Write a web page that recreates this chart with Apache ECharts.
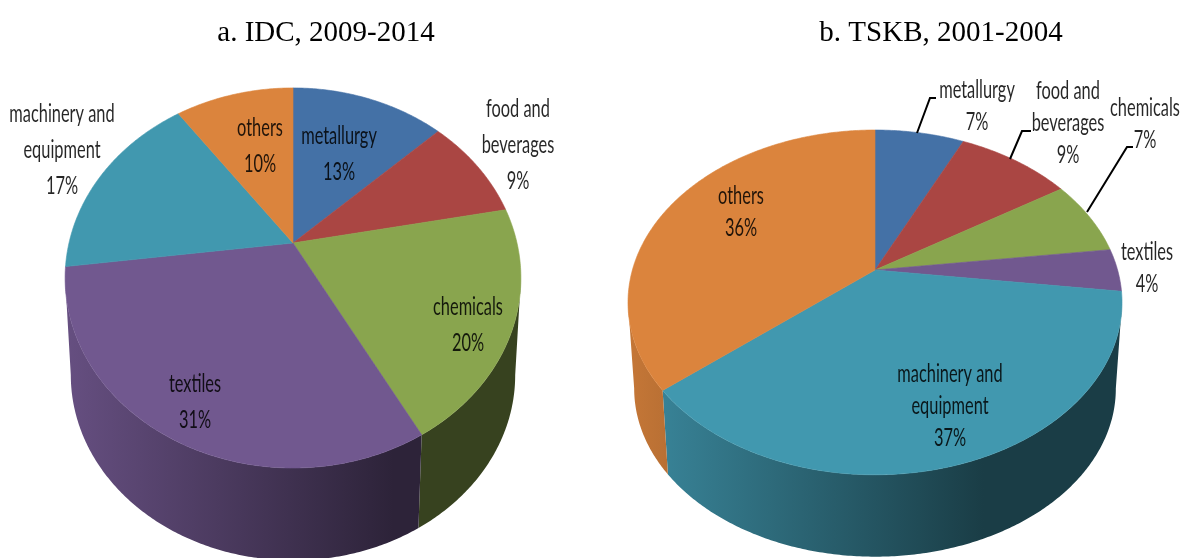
<!DOCTYPE html>
<html>
<head>
<meta charset="utf-8">
<style>html,body{margin:0;padding:0;background:#fff}#c{width:1183px;height:558px}</style>
<script src="https://cdn.jsdelivr.net/npm/echarts@6/dist/echarts.min.js"></script>
</head>
<body>
<div id="c"></div>
<script>
const sliceNames = ['metallurgy', 'food and\nbeverages', 'chemicals', 'textiles', 'machinery and\nequipment', 'others'];
const valuesIDC = [13, 9, 20, 31, 17, 10];
const valuesTSKB = [7, 9, 7, 4, 37, 36];
const titles = ['a. IDC, 2009-2014', 'b. TSKB, 2001-2004'];
const palette = ['#4471a6', '#aa4643', '#89a54e', '#71588f', '#4198af', '#db843d'];

const FONT = 'Lato';
const FONT_SIZE = 25;
const TEXT_SCALE = 0.655;

const layoutA = {
  cx: 293, cy: 243, A: 183.6, B: 224, k: 0.184, dy: 98, lowerScale: 0.975, left: 65, width: 456, lineHeight: 36,
  labels: [[339, 154], [518, 145], [468, 325], [195, 402], [62, 150], [260, 146]],
  leaders: [null, null, null, null, null, null]
};
const layoutB = {
  cx: 875, cy: 270, A: 166.3, B: 242.6, k: 0.188, dy: 87, lowerScale: 0.975, left: 628, width: 494, lineHeight: 32,
  labels: [[977, 106], [1068, 123], [1145, 124], [1147, 268], [950, 406], [741, 212]],
  leaders: [[[917, 133], [930, 98], [936, 98]], [[1010, 159], [1022, 131], [1031, 131]], [[1087, 212], [1127, 147], [1133, 147]], null, null, null]
};

function shade(hex, f) {
  const n = parseInt(hex.slice(1), 16);
  const ch = [n >> 16 & 255, n >> 8 & 255, n & 255].map(v => Math.round(v * f));
  return 'rgb(' + ch.join(',') + ')';
}

function project(L, theta, lower) {
  const c = Math.cos(theta), s = Math.sin(theta), den = 1 + L.k * c;
  let x = L.B * s / den, y = -L.A * c / den;
  if (lower) { x *= L.lowerScale; y = y * L.lowerScale + L.dy; }
  return [L.cx + x, L.cy + y];
}

function arc(L, t0, t1, lower) {
  const pts = [], n = Math.max(2, Math.ceil(Math.abs(t1 - t0) / 0.01));
  for (let i = 0; i <= n; i++) pts.push(project(L, t0 + (t1 - t0) * i / n, lower));
  return pts;
}

function makeRender(values, L) {
  const total = values.reduce((a, b) => a + b, 0);
  const tMin = Math.acos(-L.k), tMax = 2 * Math.PI - tMin;
  return function (params) {
    const i = params.dataIndex;
    const before = values.slice(0, i).reduce((a, b) => a + b, 0);
    const t0 = before / total * 2 * Math.PI;
    const t1 = (before + values[i]) / total * 2 * Math.PI;
    const color = palette[i];
    const children = [];
    const w0 = Math.max(t0, tMin), w1 = Math.min(t1, tMax);
    if (w1 > w0) {
      const pts = arc(L, w0, w1, false).concat(arc(L, w1, w0, true));
      const fill = new echarts.graphic.LinearGradient(L.left, 0, L.left + L.width, 0, [
        { offset: 0, color: shade(color, 0.9) },
        { offset: 0.72, color: shade(color, 0.4) },
        { offset: 1, color: shade(color, 0.4) }
      ], true);
      children.push({ type: 'polygon', z2: 1, shape: { points: pts }, style: { fill: fill } });
    }
    children.push({
      type: 'polygon', z2: 2,
      shape: { points: [[L.cx, L.cy]].concat(arc(L, t0, t1, false)) },
      style: { fill: color, stroke: color, lineWidth: 0.6 }
    });
    if (L.leaders[i]) {
      children.push({
        type: 'polyline', z2: 3,
        shape: { points: L.leaders[i] },
        style: { fill: null, stroke: '#000', lineWidth: 2 }
      });
    }
    children.push({
      type: 'text', z2: 4,
      x: L.labels[i][0], y: L.labels[i][1], scaleX: TEXT_SCALE,
      style: {
        text: sliceNames[i] + '\n' + values[i] + '%',
        font: FONT_SIZE + 'px ' + FONT,
        lineHeight: L.lineHeight,
        align: 'center', verticalAlign: 'middle',
        fill: 'rgba(0,0,0,0.85)'
      }
    });
    return { type: 'group', children: children };
  };
}

const chart = echarts.init(document.getElementById('c'), null, { renderer: 'canvas' });
chart.setOption({
  animation: false,
  backgroundColor: '#fff',
  title: [
    { text: titles[0], left: 321, top: 14, textAlign: 'center', textStyle: { fontFamily: 'Liberation Serif', fontSize: 29, fontWeight: 'normal', color: '#000' } },
    { text: titles[1], left: 936, top: 14, textAlign: 'center', textStyle: { fontFamily: 'Liberation Serif', fontSize: 29, fontWeight: 'normal', color: '#000' } }
  ],
  series: [
    { type: 'custom', name: titles[0], coordinateSystem: 'none', clip: false, data: valuesIDC.map((v, i) => ({ name: sliceNames[i], value: v })), renderItem: makeRender(valuesIDC, layoutA) },
    { type: 'custom', name: titles[1], coordinateSystem: 'none', clip: false, data: valuesTSKB.map((v, i) => ({ name: sliceNames[i], value: v })), renderItem: makeRender(valuesTSKB, layoutB) }
  ]
});
</script>
</body>
</html>
